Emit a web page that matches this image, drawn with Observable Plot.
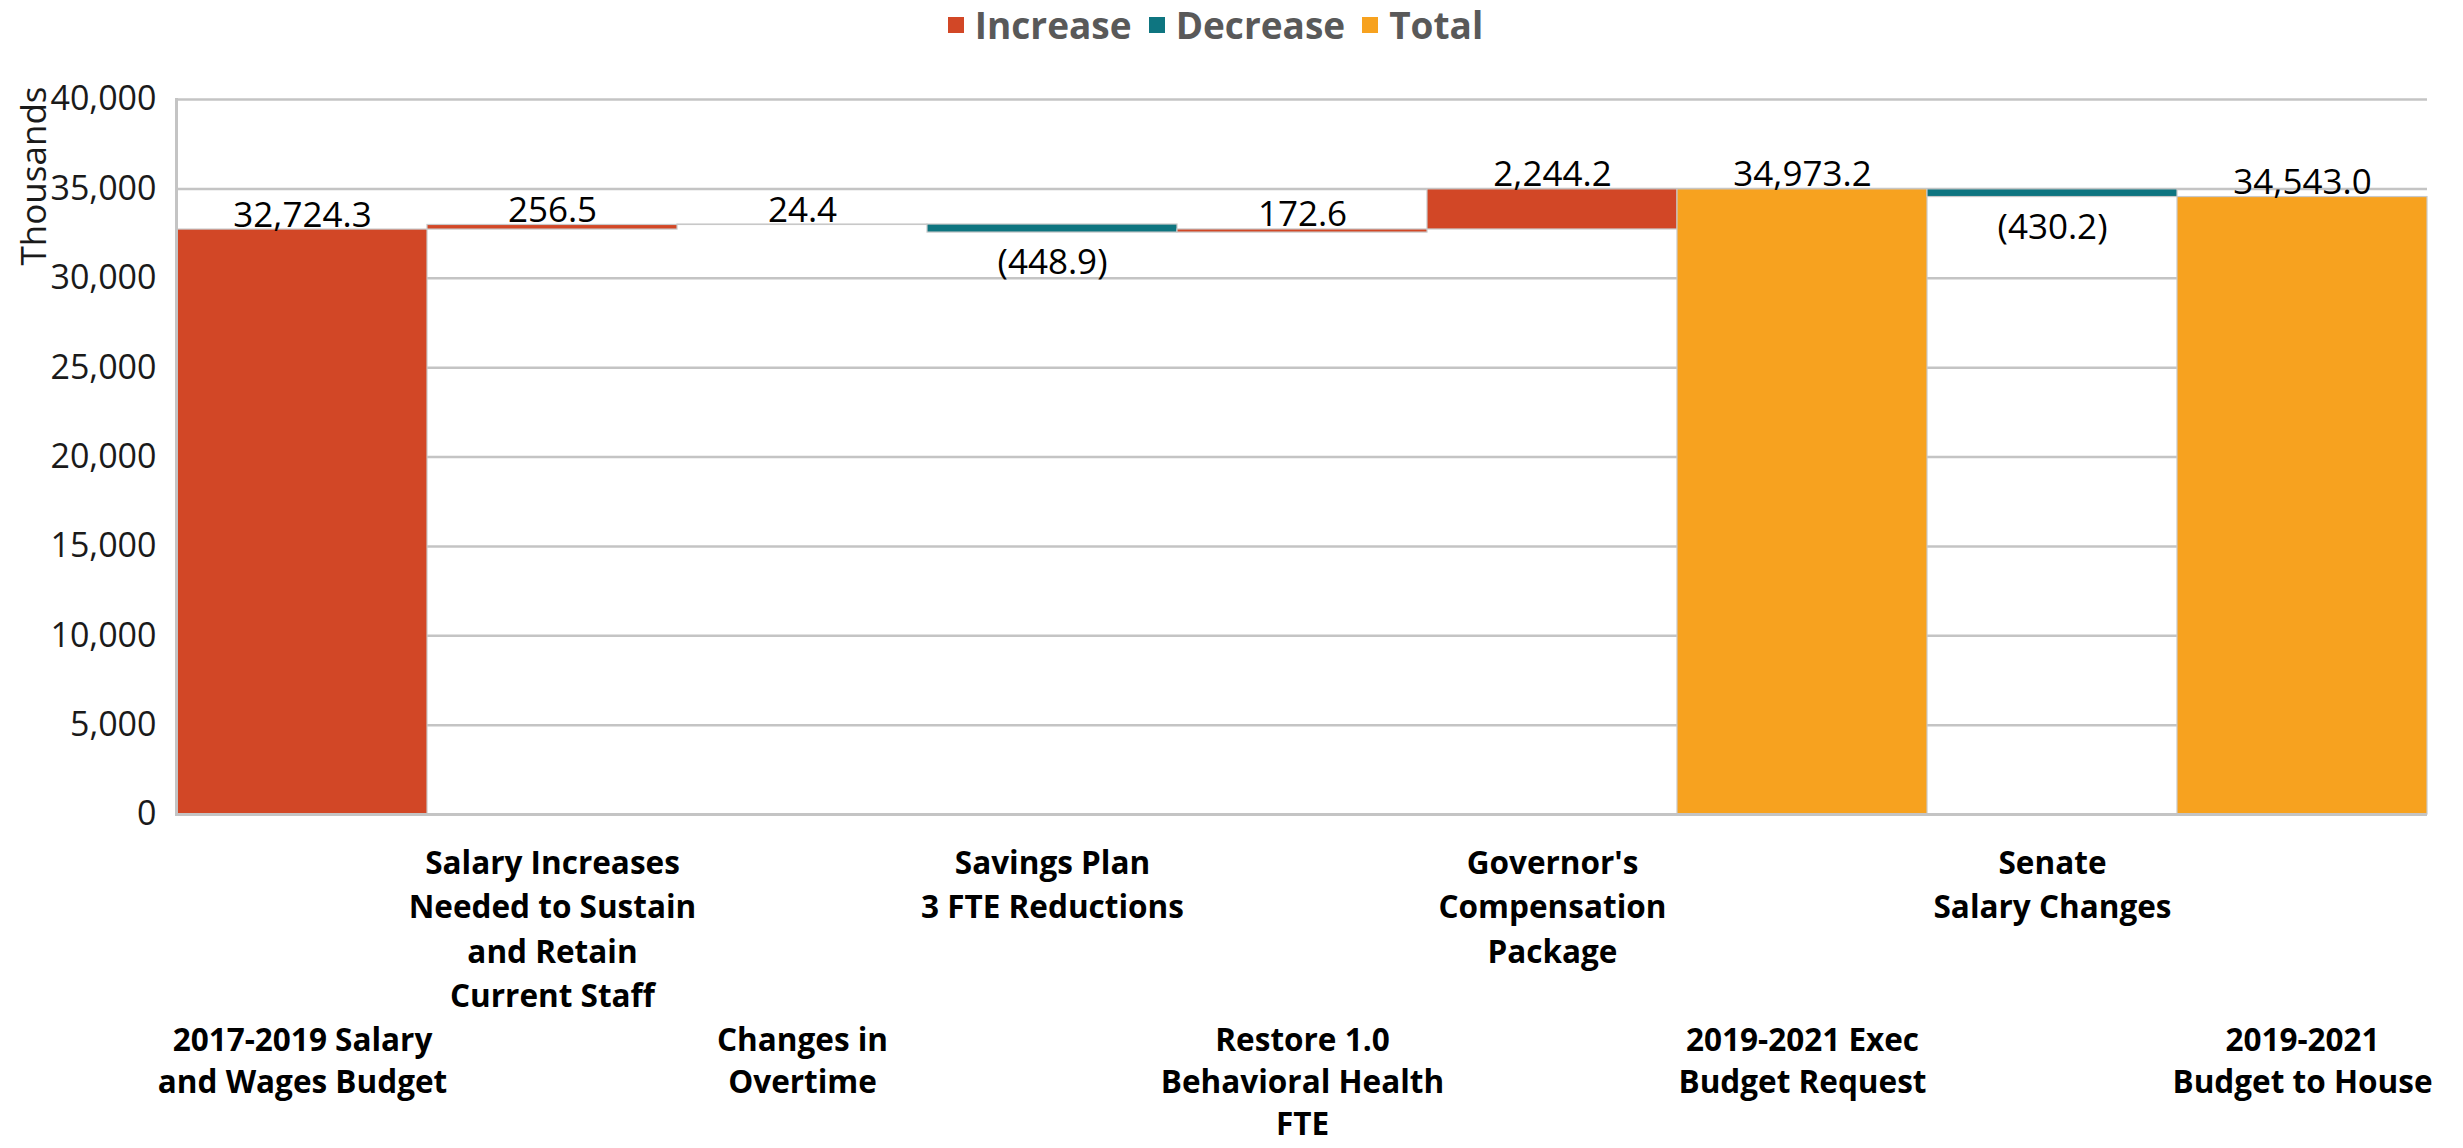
<!DOCTYPE html>
<html>
<head>
<meta charset="utf-8">
<script src="https://cdn.jsdelivr.net/npm/d3@7"></script>
<script src="https://cdn.jsdelivr.net/npm/@observablehq/plot@0.6"></script>
<style>
  html, body { margin: 0; padding: 0; background: #fff; }
  body { width: 2463px; height: 1148px; overflow: hidden; font-family: 'Open Sans', sans-serif; }
  #legend { height: 50px; display: flex; justify-content: center; align-items: center; gap: 17px; padding-right: 32px; }
  .item { display: flex; align-items: center; gap: 11px; font-weight: 700; font-size: 37px; color: #595959; line-height: 50px; }
  .sw { width: 16px; height: 16px; display: inline-block; }
</style>
</head>
<body>
<div id="legend"></div>
<div id="chart"></div>
<script>
const categories = [
  "2017-2019 Salary\nand Wages Budget",
  "Salary Increases\nNeeded to Sustain\nand Retain\nCurrent Staff",
  "Changes in\nOvertime",
  "Savings Plan\n3 FTE Reductions",
  "Restore 1.0\nBehavioral Health\nFTE",
  "Governor's\nCompensation\nPackage",
  "2019-2021 Exec\nBudget Request",
  "Senate\nSalary Changes",
  "2019-2021\nBudget to House"
];
const changes = [32724.3, 256.5, 24.4, -448.9, 172.6, 2244.2, 34973.2, -430.2, 34543.0];
const kinds = ["Increase", "Increase", "Increase", "Decrease", "Increase", "Increase", "Total", "Decrease", "Total"];
const legendKeys = ["Increase", "Decrease", "Total"];
const legendColors = ["#D24726", "#0E7580", "#F7A21F"];
const yTicks = [0, 5000, 10000, 15000, 20000, 25000, 30000, 35000, 40000];

const fmt = d3.format(",.1f");
let run = 0;
const rows = categories.map((cat, i) => {
  const v = changes[i], kind = kinds[i];
  let y1, y2;
  if (kind === "Total") { y1 = 0; y2 = v; run = v; }
  else { y1 = run; y2 = run + v; run = y2; }
  return {
    cat, kind, y1, y2,
    top: Math.max(y1, y2), bottom: Math.min(y1, y2),
    label: kind === "Decrease" ? `(${fmt(-v)})` : fmt(v)
  };
});

// legend
const lg = document.getElementById("legend");
legendKeys.forEach((k, i) => {
  const it = document.createElement("div");
  it.className = "item";
  it.innerHTML = `<span class="sw" style="background:${legendColors[i]}"></span><span>${k}</span>`;
  lg.appendChild(it);
});

const chart = Plot.plot({
  width: 2463,
  height: 1098,
  marginTop: 49,
  marginLeft: 176,
  marginRight: 36,
  marginBottom: 334,
  style: { fontFamily: "'Open Sans', sans-serif", fontSize: "33px", color: "#1a1a1a", background: "#fff" },
  x: { type: "band", domain: categories, padding: 0 },
  y: { domain: [0, 40000] },
  color: { domain: legendKeys, range: legendColors },
  marks: [
    Plot.gridY(yTicks, { stroke: "#c4c4c4", strokeOpacity: 1, strokeWidth: 2.5 }),
    Plot.barY(rows, { x: "cat", y1: "y1", y2: "y2", fill: "kind", stroke: "#c8c8c8", strokeWidth: 1.2 }),
    Plot.ruleY([0], { stroke: "#c4c4c4", strokeWidth: 3 }),
    Plot.frame({ anchor: "left", stroke: "#c4c4c4", strokeWidth: 3 }),
    Plot.axisY(yTicks, { tickSize: 0, tickPadding: 20, tickFormat: d3.format(","), fontSize: 34, label: null }),
    Plot.text(["Thousands"], { frameAnchor: "top-left", rotate: -90, textAnchor: "end", dx: -155, dy: -13, fontSize: 35 }),
    Plot.axisX(categories.filter((d, i) => i % 2 === 1), { tickSize: 0, tickPadding: 28, fontSize: 31.5, fontWeight: "bold", lineHeight: 1.41, label: null, fill: "#000" }),
    Plot.axisX(categories.filter((d, i) => i % 2 === 0), { tickSize: 0, tickPadding: 207, fontSize: 31.5, fontWeight: "bold", lineHeight: 1.33, label: null, fill: "#000" }),
    Plot.text(rows.filter(d => d.kind !== "Decrease"), { x: "cat", y: "top", text: "label", lineAnchor: "bottom", dy: -3, fontSize: 35, fill: "#000" }),
    Plot.text(rows.filter(d => d.kind === "Decrease"), { x: "cat", y: "bottom", text: "label", lineAnchor: "top", dy: 17, fontSize: 35, fill: "#000" })
  ]
});
document.getElementById("chart").appendChild(chart);
</script>
</body>
</html>
